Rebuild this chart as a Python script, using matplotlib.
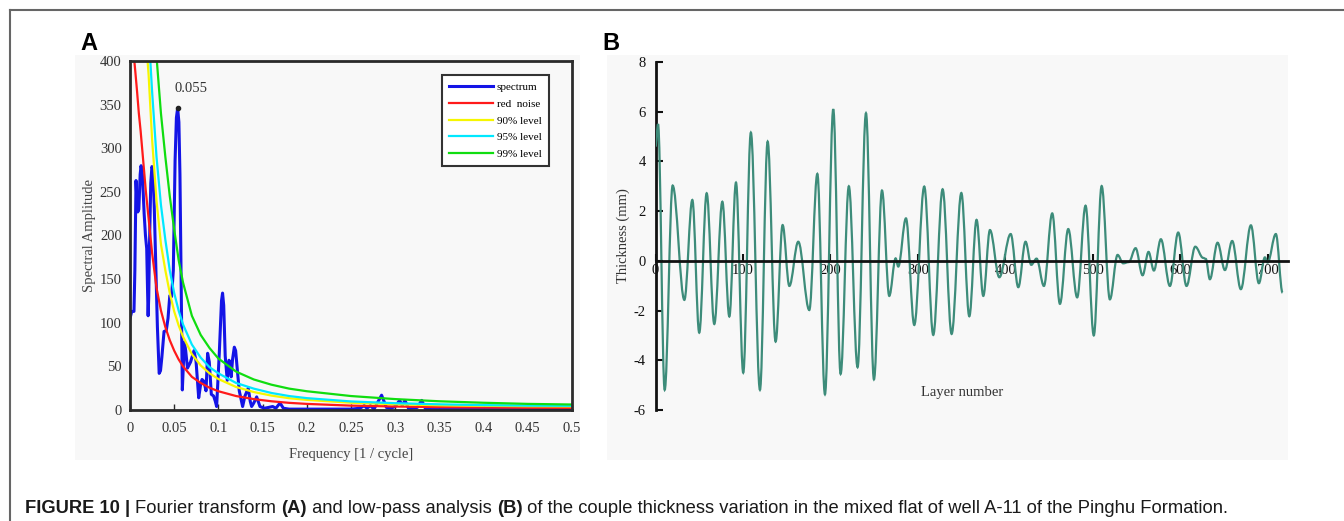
import matplotlib
matplotlib.use("Agg")
import matplotlib.pyplot as plt
from matplotlib.path import Path
from matplotlib.patches import PathPatch, Rectangle
from matplotlib.lines import Line2D

plt.rcParams["axes.unicode_minus"] = False

# ---- panel A: spectrum ----
spec_freq = [0, 0.002, 0.0045, 0.0055, 0.0068, 0.0078, 0.0088, 0.010, 0.0115, 0.0125, 0.014,
             0.016, 0.0175, 0.0189, 0.0198, 0.0205, 0.0212, 0.022, 0.0235, 0.0248, 0.026,
             0.0275, 0.029, 0.031, 0.033, 0.0345, 0.036, 0.0385, 0.041, 0.043, 0.045, 0.047,
             0.049, 0.051, 0.0525, 0.0539, 0.0553, 0.0565, 0.058, 0.0592, 0.0605, 0.0615,
             0.063, 0.065, 0.0685, 0.0724, 0.0747, 0.0777, 0.080, 0.0815, 0.0835, 0.086,
             0.0878, 0.0897, 0.092, 0.0946, 0.0965, 0.098, 0.101, 0.1035, 0.1047, 0.106,
             0.1077, 0.110, 0.112, 0.113, 0.1145, 0.116, 0.118, 0.1195, 0.1215, 0.1236,
             0.1274, 0.130, 0.1338, 0.136, 0.1376, 0.140, 0.1433, 0.145, 0.147, 0.152, 0.157,
             0.1614, 0.165, 0.1697, 0.1735, 0.18, 0.20, 0.22, 0.25, 0.26, 0.265, 0.268, 0.272,
             0.276, 0.2846, 0.29, 0.295, 0.30, 0.305, 0.308, 0.311, 0.315, 0.325, 0.33, 0.334,
             0.34, 0.40, 0.50]
spec_amp = [105, 113, 113, 160, 263, 240, 227, 230, 270, 280, 270,
            225, 200, 185, 140, 108, 130, 187, 260, 279, 275,
            230, 172, 95, 42, 45, 60, 90, 91, 105, 131, 130,
            160, 286, 335, 346, 330, 270, 134, 23, 55, 78,
            68, 48, 55, 68, 56, 14, 30, 35, 33, 22,
            65, 55, 18, 16, 10, 4, 65, 125, 134, 120,
            62, 34, 57, 55, 38, 58, 72, 68, 45, 22,
            4, 16, 25, 10, 4, 8, 15, 10, 4, 2, 3,
            4, 2, 8, 2, 1, 1, 1, 1, 2, 5, 2, 5,
            1, 17, 3, 2, 4, 11, 5, 11, 2, 3, 11, 2,
            0.5, 0.5, 0.5]

level_freq = [0.004, 0.006, 0.008, 0.010, 0.012, 0.015, 0.018, 0.021, 0.025, 0.030, 0.035,
              0.040, 0.045, 0.050, 0.055, 0.060, 0.070, 0.080, 0.090, 0.100, 0.120, 0.140,
              0.160, 0.180, 0.200, 0.250, 0.300, 0.350, 0.400, 0.450, 0.500]
red_noise = [410, 388, 365, 340, 320, 285, 250, 220, 180, 140, 114,
             95, 80, 68, 58, 50, 38, 31, 25.5, 21.5, 16, 12.5,
             10, 8.2, 7, 5, 4, 3.3, 2.9, 2.6, 2.5]
level_90 = [676, 640, 602, 561, 528, 470, 425, 385, 310, 240, 190,
            160, 134, 113, 97, 84, 64, 51, 42, 35.5, 26.4, 20.6,
            16.5, 13.5, 11.6, 8.3, 6.6, 5.4, 4.8, 4.3, 4.1]
level_95 = [779, 737, 694, 646, 608, 542, 480, 435, 365, 290, 235,
            195, 160, 134, 114, 98, 75, 60, 49, 42, 31, 24.5,
            19.5, 16, 13.6, 9.8, 7.8, 6.5, 5.6, 5.0, 4.8]
level_99 = [1025, 970, 913, 850, 800, 713, 625, 560, 475, 405, 340,
            290, 245, 207, 172, 146, 108, 86, 71, 59, 44, 35,
            29, 24.5, 21.5, 16, 12.5, 10, 8.3, 7, 6.3]
peak_freq, peak_amp = 0.0539, 346

# ---- panel B: extrema of the low-pass curve ----
layer_ext = [0, 2.9, 10.5, 19.6, 33, 42.1, 50, 58.5, 67.2, 76.4, 84.4, 92, 100.3, 109, 119.4,
             128.2, 137.3, 145.3, 153, 163.2, 175.8, 185, 193.7, 203.2, 211.6, 221, 231,
             240.6, 249.7, 258.9, 267.2, 274.5, 277.5, 286.3, 295.8, 307.2, 317.5, 328.2,
             338.5, 349.6, 358.7, 367, 374.7, 382.3, 393, 406, 414.7, 423, 429.5, 435.6, 444,
             453.5, 462.3, 471.8, 482, 491.6, 501, 510, 519.4, 528.2, 534.6, 541, 548.8,
             556.8, 563.6, 569.7, 577.7, 588, 597.5, 607, 617, 626, 629, 633.7, 642.5,
             650.9, 659.2, 669.1, 680.6, 689.7, 696.6, 699.7, 709.1, 716.8]
thick_ext = [4.6, 5.5, -5.19, 3.03, -1.57, 2.45, -2.89, 2.72, -2.54, 2.38, -2.24, 3.15, -4.5, 5.16,
             -5.19, 4.8, -3.25, 1.44, -1.01, 0.77, -1.98, 3.5, -5.37, 6.1, -4.55, 3.0, -4.28,
             5.94, -4.77, 2.83, -1.41, 0.1, -0.23, 1.71, -2.58, 2.99, -2.98, 2.88,
             -2.94, 2.73, -2.23, 1.65, -1.41, 1.24, -0.66, 1.08, -1.06, 0.77, -0.16, 0.09, -1.01,
             1.91, -1.73, 1.28, -1.47, 2.22, -3.0, 3.01, -1.55, 0.24, -0.1, -0.05, 0.51,
             -0.58, 0.36, -0.39, 0.87, -1.01, 1.14, -1.01, 0.57, 0.12, 0.08, -0.74, 0.73,
             -0.37, 0.8, -1.14, 1.43, -0.9, 0.14, -0.07, 1.08, -1.28]

W, H = 1344, 521
fig = plt.figure(figsize=(W / 100, H / 100), dpi=100)
serif = "Liberation Serif"


def fx(px):
    return px / W


def fy(py):
    return 1 - py / H


# outer frame (top and left edge only visible)
fig.add_artist(Line2D([fx(10), 1], [fy(10), fy(10)], color="#666666", lw=1.5))
fig.add_artist(Line2D([fx(10), fx(10)], [fy(10), 0], color="#666666", lw=1.5))

# light grey image backgrounds
for x0, x1 in [(75, 580), (607, 1288)]:
    fig.add_artist(Rectangle((fx(x0), fy(460)), fx(x1 - x0), (460 - 55) / H,
                             facecolor="#f8f8f8", edgecolor="none", zorder=0))

fig.text(fx(80), fy(50), "A", fontsize=17, fontweight="bold", family="Liberation Sans")
fig.text(fx(602), fy(50), "B", fontsize=17, fontweight="bold", family="Liberation Sans")

# ---------------- panel A ----------------
axA = fig.add_axes([fx(130), fy(410), fx(572 - 130), (410 - 61) / H])
axA.set_facecolor("#f8f8f8")
axA.plot(spec_freq, spec_amp, color="#1414e6", lw=2.2, label="spectrum")
axA.plot(level_freq, red_noise, color="#ff1a1a", lw=1.6, label="red  noise")
axA.plot(level_freq, level_90, color="#f6f600", lw=1.6, label="90% level")
axA.plot(level_freq, level_95, color="#00e8ff", lw=1.6, label="95% level")
axA.plot(level_freq, level_99, color="#10dd10", lw=1.6, label="99% level")
axA.plot([peak_freq], [peak_amp], "o", color="#222222", ms=3, zorder=5)
axA.text(0.0505, 369, "0.055", family=serif, fontsize=10.5, color="#333333", va="center")
axA.set_xlim(0, 0.5)
axA.set_ylim(0, 400)
axA.set_xticks([0, 0.05, 0.1, 0.15, 0.2, 0.25, 0.3, 0.35, 0.4, 0.45, 0.5])
axA.set_xticklabels(["0", "0.05", "0.1", "0.15", "0.2", "0.25", "0.3", "0.35", "0.4", "0.45", "0.5"])
axA.set_yticks(range(0, 401, 50))
for s in axA.spines.values():
    s.set_linewidth(2)
    s.set_color("#2a2a2a")
axA.tick_params(direction="in", length=4, width=1, colors="#2a2a2a", labelcolor="#333333",
                labelsize=10.5, pad=9)
axA.tick_params(axis="y", length=0, pad=6)
for lab in axA.get_xticklabels() + axA.get_yticklabels():
    lab.set_family(serif)
axA.set_xlabel("Frequency [1 / cycle]", family=serif, fontsize=10.5, color="#444444", labelpad=9)
axA.set_ylabel("Spectral Amplitude", family=serif, fontsize=10.5, color="#444444", labelpad=3)
leg = axA.legend(loc="upper right", bbox_to_anchor=(0.96, 0.975), prop={"family": serif, "size": 8},
                 handlelength=4.0, labelspacing=0.62, handletextpad=0.3, borderpad=0.65,
                 fancybox=False, framealpha=1, edgecolor="#333333")
leg.get_frame().set_linewidth(1.5)

# ---------------- panel B ----------------
axB = fig.add_axes([fx(655.5), fy(410), fx(1288 - 655.5), (410 - 62) / H])
axB.set_facecolor("#f8f8f8")
verts = [(layer_ext[0], thick_ext[0])]
codes = [Path.MOVETO]
for i in range(1, len(layer_ext)):
    dx = layer_ext[i] - layer_ext[i - 1]
    verts += [(layer_ext[i - 1] + 0.36 * dx, thick_ext[i - 1]),
              (layer_ext[i] - 0.36 * dx, thick_ext[i]),
              (layer_ext[i], thick_ext[i])]
    codes += [Path.CURVE4] * 3
axB.add_patch(PathPatch(Path(verts, codes), facecolor="none", edgecolor="#3d8c7a", lw=1.6, zorder=3))
axB.set_xlim(0, 723)
axB.set_ylim(-6, 8)
axB.spines["top"].set_visible(False)
axB.spines["right"].set_visible(False)
axB.spines["bottom"].set_position(("data", 0))
axB.spines["bottom"].set_zorder(4)
for s in ["left", "bottom"]:
    axB.spines[s].set_linewidth(2)
    axB.spines[s].set_color("#111111")
axB.set_xticks(range(0, 701, 100))
axB.set_yticks(range(-6, 9, 2))
axB.tick_params(direction="in", length=5, width=1.5, colors="#111111", labelsize=10.5)
axB.tick_params(axis="x", pad=2)
axB.tick_params(axis="y", pad=7)
for lab in axB.get_xticklabels() + axB.get_yticklabels():
    lab.set_family(serif)
axB.text(0.485, 0.049, "Layer number", transform=axB.transAxes, family=serif, fontsize=10.5,
         color="#333333", ha="center", va="center")
axB.set_ylabel("Thickness (mm)", family=serif, fontsize=10.5, color="#333333", labelpad=3)

# ---------------- caption ----------------
cap = fig.add_axes([0, 0, 1, 1])
cap.axis("off")
pieces = [("FIGURE 10 | ", "bold"), ("Fourier transform ", "normal"), ("(A)", "bold"),
          (" and low-pass analysis ", "normal"), ("(B)", "bold"),
          (" of the couple thickness variation in the mixed flat of well A-11 of the Pinghu Formation.",
           "normal")]
prev = cap.text(fx(25), fy(517), pieces[0][0], fontsize=13.2, fontweight="bold",
                family="Liberation Sans", color="#1a1a1a", va="bottom")
for txt, wt in pieces[1:]:
    prev = cap.annotate(txt, xy=(1, 0), xycoords=prev, va="bottom", fontsize=13.2, fontweight=wt,
                        family="Liberation Sans", color="#1a1a1a")

fig.savefig("out.png", dpi=100)
